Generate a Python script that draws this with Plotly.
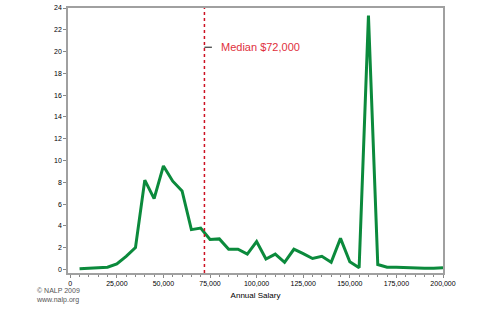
import plotly.graph_objects as go

salary = list(range(5000, 200001, 5000))
percent = [0.05, 0.1, 0.1, 0.2, 0.5, 1.2, 2.0, 8.2, 6.5, 9.5,
           8.1, 7.2, 3.65, 3.8, 2.75, 2.8, 1.85, 1.85, 1.4, 2.55,
           0.95, 1.4, 0.65, 1.85, 1.45, 1.0, 1.2, 0.65, 2.85, 0.7,
           0.15, 23.3, 0.45, 0.2, 0.2, 0.15, 0.15, 0.1, 0.1, 0.15]
median_salary = 72000
median_label = "Median $72,000"
x_ticks = [0, 25000, 50000, 75000, 100000, 125000, 150000, 175000, 200000]
y_ticks = list(range(0, 25, 2))

fig = go.Figure()
fig.add_trace(go.Scatter(x=salary, y=percent, mode="lines",
                         line=dict(color="#0b8a3c", width=3), showlegend=False,
                         hoverinfo="skip"))

fig.add_shape(type="line", x0=median_salary, x1=median_salary, yref="paper",
              y0=0, y1=1, line=dict(color="#cc1122", width=1.5, dash="dot"))

fig.add_annotation(x=median_salary, y=20.4, ax=9, ay=0, text="",
                   showarrow=True, arrowhead=0, arrowwidth=1, arrowcolor="#111")
fig.add_annotation(x=median_salary, y=20.4, xanchor="left", xshift=15,
                   text=median_label, showarrow=False,
                   font=dict(family="Liberation Sans, Arial", size=11, color="#e0303c"))

fig.add_annotation(xref="paper", yref="paper", x=-0.09, y=-0.044, xanchor="left",
                   yanchor="top", align="left", showarrow=False,
                   text="© NALP 2009<br>www.nalp.org",
                   font=dict(family="Liberation Sans, Arial", size=7, color="#555"))

axis_common = dict(showline=True, linecolor="#a0a0a0", linewidth=1.5,
                   mirror=True, showgrid=False, zeroline=False,
                   ticks="outside", ticklen=3, tickcolor="#888", tickwidth=1,
                   tickfont=dict(family="Liberation Sans, Arial", size=7, color="#000"))

fig.update_xaxes(range=[-1200, 200000], tickvals=x_ticks,
                 ticktext=[f"{v:,}" for v in x_ticks],
                 minor=dict(dtick=5000, tick0=0, ticks="outside", ticklen=2, tickcolor="#888"),
                 title=dict(text="Annual Salary", standoff=6,
                            font=dict(family="Liberation Sans, Arial", size=8, color="#000")),
                 **axis_common)
fig.update_yaxes(range=[-0.33, 24], tickvals=y_ticks, **axis_common)

fig.update_layout(width=480, height=320, margin=dict(l=68, r=37, t=4, b=47),
                  paper_bgcolor="white", plot_bgcolor="white")

fig.write_html("out.html")
